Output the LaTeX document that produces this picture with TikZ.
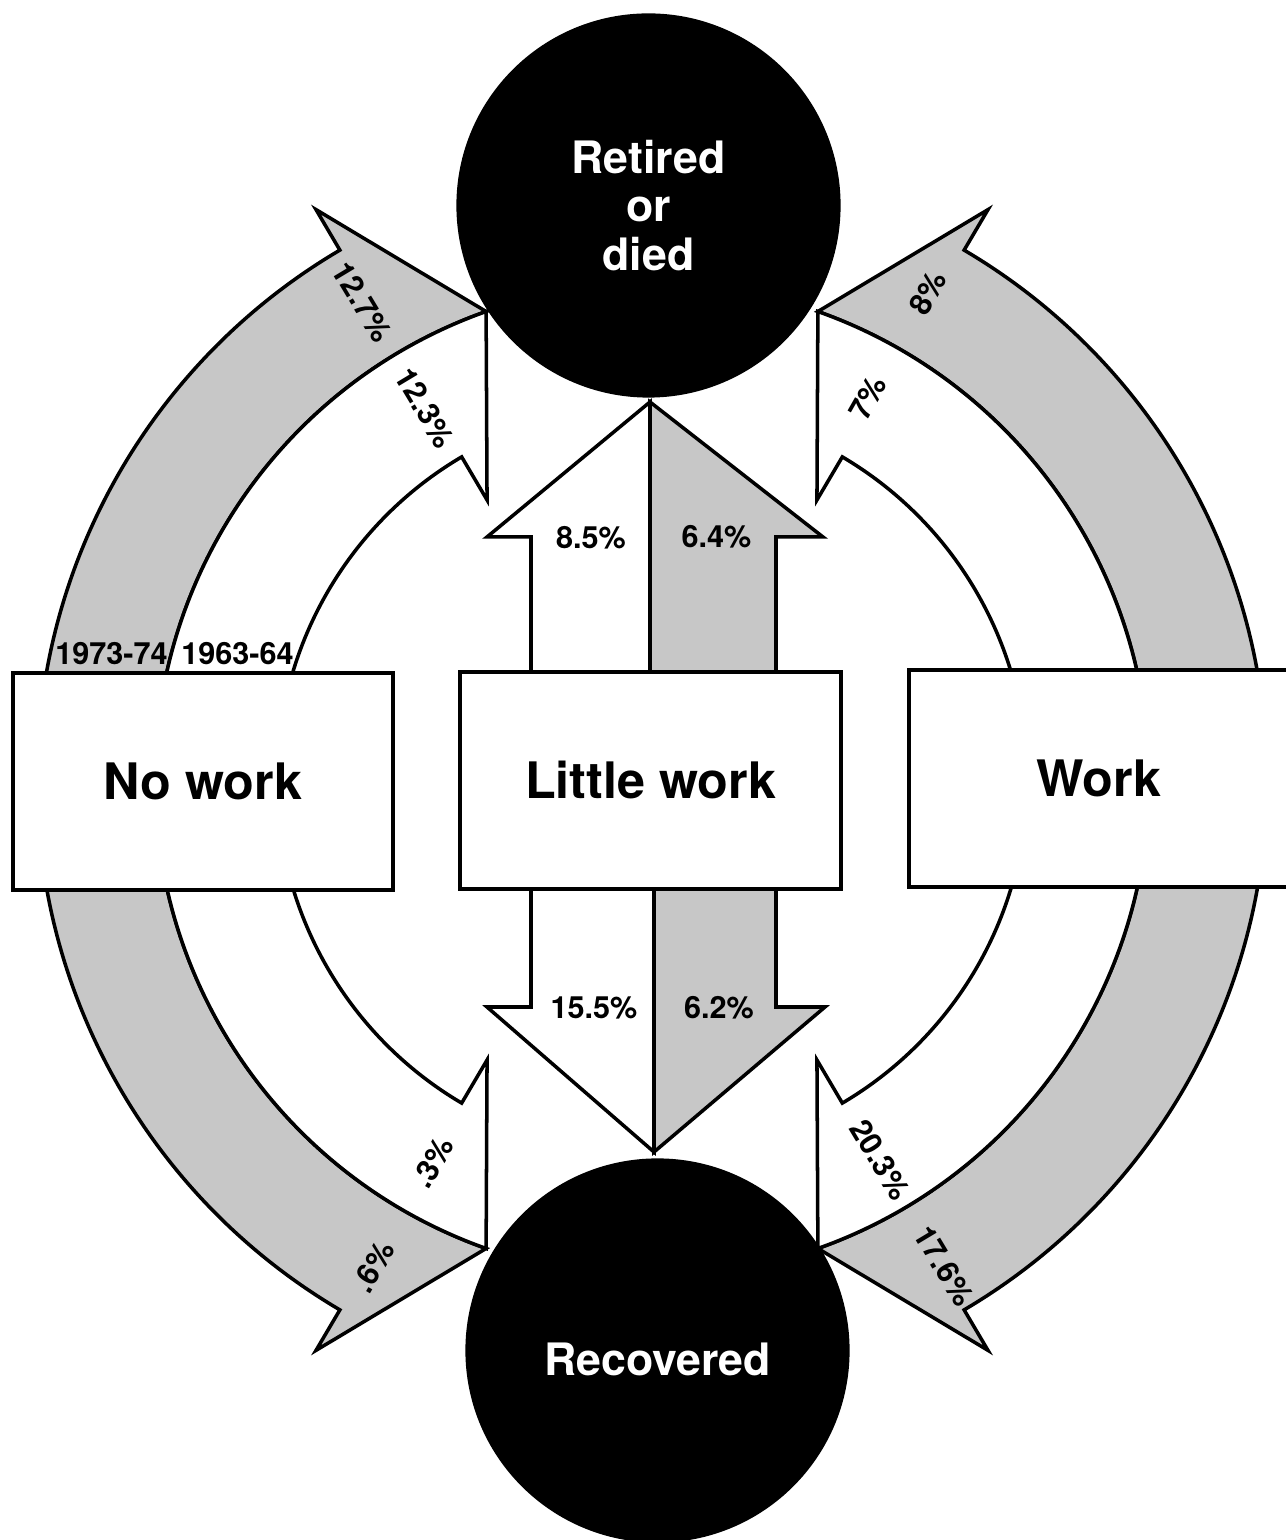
\documentclass[tikz,border=0pt]{standalone}
\usepackage{fontspec}
\setmainfont{TeX Gyre Heros}
\definecolor{dotgray}{gray}{0.78}
\tikzset{
  shadehalf/.style={fill=dotgray, draw=black, line width=1pt, line join=miter},
  blankhalf/.style={fill=white, draw=black, line width=1pt, line join=miter},
  box/.style={draw, fill=white, line width=1pt, minimum width=3.8cm, minimum height=2.17cm,
    font=\fontsize{14.3}{17}\selectfont\bfseries},
  state/.style={circle, fill=black, text=white, minimum size=3.84cm, inner sep=0pt,
    align=center, font=\fontsize{12.7}{13.9}\selectfont\bfseries},
  statetext/.style={text=white, align=center, font=\fontsize{12.7}{13.9}\selectfont\bfseries},
  pct/.style={inner sep=1pt, font=\fontsize{8.7}{10}\selectfont\bfseries},
  splitarc/.pic={
    \filldraw[shadehalf] (180:615) arc[start angle=180, end angle=120.5, radius=615]
      -- (120.5:662) -- (109.5:497) arc[start angle=109.5, end angle=180, radius=497] -- cycle;
    \filldraw[blankhalf] (180:497) arc[start angle=180, end angle=109.5, radius=497]
      -- (120.5:325) -- (120.5:375) arc[start angle=120.5, end angle=180, radius=375] -- cycle;
  }
}
\begin{document}
\begin{tikzpicture}[x=0.01cm, y=0.01cm]
  \useasboundingbox (-652,-760) rectangle (634,780);
  \pic at (0,0) {splitarc};
  \pic[xscale=-1] at (0,0) {splitarc};
  \pic[yscale=-1] at (0,0) {splitarc};
  \pic[scale=-1] at (0,0) {splitarc};
  % middle column
  \filldraw[blankhalf] (-2,0) -- (-2,378) -- (-165,243) -- (-121,243) -- (-121,0) -- cycle;
  \filldraw[shadehalf] (-2,0) -- (-2,378) -- (171,243) -- (124,243) -- (124,0) -- cycle;
  \filldraw[blankhalf] (2,0) -- (2,-372) -- (-165,-227) -- (-121,-227) -- (-121,0) -- cycle;
  \filldraw[shadehalf] (2,0) -- (2,-372) -- (173,-227) -- (124,-227) -- (124,0) -- cycle;
  % boxes and circles
  \node[box] (nowork) at (-449,-1.5) {No work};
  \node[box, minimum width=3.81cm] (littlework) at (-1.5,-0.5) {Little work};
  \node[box] (work) at (447,1.5) {Work};
  \node[state] (retired) at (-3.5,574.5) {Retired\\or\\died};
  \node[state] (recovered) at (5.5,-570.5) {};
  \node[statetext] (recoveredtext) at (5.5,-579) {Recovered};
  % percentages
  \node[pct] (up63) at (-61,242) {8.5\%};
  \node[pct] (up73) at (64.5,243) {6.4\%};
  \node[pct] (down63) at (-58,-228) {15.5\%};
  \node[pct] (down73) at (67,-228) {6.2\%};
  \node[pct, rotate=-59] (nw73) at (121.2:559) {12.7\%};
  \node[pct, rotate=-59] (nw63) at (121.4:436) {12.3\%};
  \node[pct, rotate=60.5] (ne73) at (60.5:560) {8\%};
  \node[pct, rotate=60.5] (ne63) at (60.5:439) {7\%};
  \node[pct, rotate=60] (sw63) at (240.2:441) {.3\%};
  \node[pct, rotate=60] (sw73) at (240.2:561) {.6\%};
  \node[pct, rotate=-59] (se63) at (301:443) {20.3\%};
  \node[pct, rotate=-59] (se73) at (301:567) {17.6\%};
  \node[pct] (y73) at (-540.5,126) {1973-74};
  \node[pct] (y63) at (-414.5,126) {1963-64};
\end{tikzpicture}
\end{document}
